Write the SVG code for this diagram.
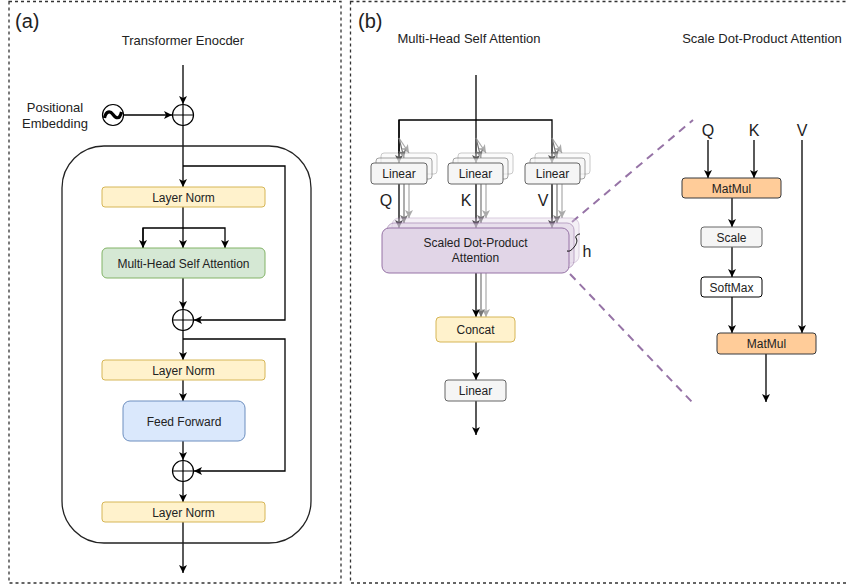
<svg xmlns="http://www.w3.org/2000/svg" width="846" height="588" viewBox="0 0 846 588">
<style>
text{font-family:"Liberation Sans",Arial,sans-serif;fill:#222;text-anchor:middle}
.t{font-size:13px}
.b{font-size:12px}
.big{font-size:20px;text-anchor:start}
.qkv{font-size:16px}
.ln{stroke:#000;stroke-width:1.3;fill:none}
.g1{stroke:#777;stroke-width:1.2;fill:none}
.g2{stroke:#aaa;stroke-width:1.2;fill:none}
.panel{fill:none;stroke:#333;stroke-width:1.3;stroke-dasharray:3,3}
.yel{fill:#fff2cc;stroke:#d6b656}
.grn{fill:#d5e8d4;stroke:#82b366}
.blu{fill:#dae8fc;stroke:#6c8ebf}
.gry{fill:#f5f5f5;stroke:#666}
.pur{fill:#e1d5e7;stroke:#9673a6}
.org{fill:#ffcc99;stroke:#36393d}
.wht{fill:#fff;stroke:#000}
.sum{fill:#fff;stroke:#000;stroke-width:1.2}
.pdash{stroke:#9673a6;stroke-width:2;stroke-dasharray:8,6;fill:none}
</style>
<defs>
<marker id="a" viewBox="0 0 8 8" refX="8" refY="4" markerWidth="8" markerHeight="8" markerUnits="userSpaceOnUse" orient="auto"><path d="M0,0 L8,4 L0,8 L2,4 z" fill="#000"/></marker>
<marker id="ag" viewBox="0 0 8 8" refX="8" refY="4" markerWidth="8" markerHeight="8" markerUnits="userSpaceOnUse" orient="auto"><path d="M0,0 L8,4 L0,8 L2,4 z" fill="#777"/></marker>
<marker id="ag2" viewBox="0 0 8 8" refX="8" refY="4" markerWidth="8" markerHeight="8" markerUnits="userSpaceOnUse" orient="auto"><path d="M0,0 L8,4 L0,8 L2,4 z" fill="#aaa"/></marker>
</defs>
<rect width="846" height="588" fill="#fff"/>
<!-- panels -->
<g id="panel-a">
<rect class="panel" x="9" y="1.5" width="332" height="581.5"/>
<text class="big" x="15" y="28">(a)</text>
<text class="t" x="183" y="45">Transformer Enocder</text>
</g>
<g id="panel-b">
<rect class="panel" x="350.5" y="1.5" width="500" height="581.5"/>
<text class="big" x="358" y="28">(b)</text>
<text class="t" x="469" y="43">Multi-Head Self Attention</text>
<text class="t" x="762" y="43">Scale Dot-Product Attention</text>
</g>
<!-- connectors -->
<g id="connectors">
<!-- panel a -->
<line class="ln" x1="183" y1="65" x2="183" y2="104" marker-end="url(#a)"/>
<line class="ln" x1="123.5" y1="115" x2="172" y2="115" marker-end="url(#a)"/>
<line class="ln" x1="183" y1="125.5" x2="183" y2="187" marker-end="url(#a)"/>
<polyline class="ln" points="183,166 285,166 285,320 194,320" marker-end="url(#a)"/>
<line class="ln" x1="183" y1="207" x2="183" y2="248" marker-end="url(#a)"/>
<polyline class="ln" points="143,248 143,228 225,228 225,248" marker-end="url(#a)"/>
<line class="ln" x1="143" y1="228" x2="143" y2="248" marker-end="url(#a)"/>
<line class="ln" x1="183" y1="278" x2="183" y2="309" marker-end="url(#a)"/>
<line class="ln" x1="183" y1="330.5" x2="183" y2="360" marker-end="url(#a)"/>
<polyline class="ln" points="183,339 285,339 285,471 194,471" marker-end="url(#a)"/>
<line class="ln" x1="183" y1="380" x2="183" y2="401" marker-end="url(#a)"/>
<line class="ln" x1="183" y1="441" x2="183" y2="460" marker-end="url(#a)"/>
<line class="ln" x1="183" y1="481.5" x2="183" y2="502" marker-end="url(#a)"/>
<line class="ln" x1="183" y1="522" x2="183" y2="573" marker-end="url(#a)"/>
<!-- panel b: MHSA -->
<line class="ln" x1="476" y1="75" x2="476" y2="163" marker-end="url(#a)"/>
<polyline class="ln" points="399,163 399,120 552,120 552,163" marker-end="url(#a)"/>
<line class="ln" x1="399" y1="120" x2="399" y2="163" marker-end="url(#a)"/>
<g id="gray-in">
<line class="g2" x1="399" y1="138" x2="409" y2="153" marker-end="url(#ag2)"/>
<line class="g1" x1="399" y1="138" x2="404" y2="158" marker-end="url(#ag)"/>
<line class="g2" x1="476" y1="138" x2="486" y2="153" marker-end="url(#ag2)"/>
<line class="g1" x1="476" y1="138" x2="481" y2="158" marker-end="url(#ag)"/>
<line class="g2" x1="552" y1="138" x2="562" y2="153" marker-end="url(#ag2)"/>
<line class="g1" x1="552" y1="138" x2="557" y2="158" marker-end="url(#ag)"/>
</g>
<line class="g2" x1="409" y1="174" x2="409" y2="218" marker-end="url(#ag2)"/>
<line class="g1" x1="404" y1="179" x2="404" y2="223" marker-end="url(#ag)"/>
<line class="ln" x1="399" y1="184" x2="399" y2="228" marker-end="url(#a)"/>
<line class="g2" x1="486" y1="174" x2="486" y2="218" marker-end="url(#ag2)"/>
<line class="g1" x1="481" y1="179" x2="481" y2="223" marker-end="url(#ag)"/>
<line class="ln" x1="476" y1="184" x2="476" y2="228" marker-end="url(#a)"/>
<line class="g2" x1="562" y1="174" x2="562" y2="218" marker-end="url(#ag2)"/>
<line class="g1" x1="557" y1="179" x2="557" y2="223" marker-end="url(#ag)"/>
<line class="ln" x1="552" y1="184" x2="552" y2="228" marker-end="url(#a)"/>
<line class="g2" x1="486" y1="273" x2="486" y2="317" marker-end="url(#ag2)"/>
<line class="g1" x1="481" y1="273" x2="481" y2="317" marker-end="url(#ag)"/>
<line class="ln" x1="476" y1="273" x2="476" y2="317" marker-end="url(#a)"/>
<line class="ln" x1="476" y1="342" x2="476" y2="380" marker-end="url(#a)"/>
<line class="ln" x1="476" y1="401" x2="476" y2="435" marker-end="url(#a)"/>
<!-- zoom dashes -->
<line class="pdash" x1="572" y1="222" x2="693" y2="120"/>
<line class="pdash" x1="570" y1="274" x2="692" y2="402"/>
<!-- scaled dot product -->
<line class="ln" x1="708" y1="140" x2="708" y2="178" marker-end="url(#a)"/>
<line class="ln" x1="754" y1="140" x2="754" y2="178" marker-end="url(#a)"/>
<line class="ln" x1="802" y1="140" x2="802" y2="333" marker-end="url(#a)"/>
<line class="ln" x1="732" y1="198" x2="732" y2="227" marker-end="url(#a)"/>
<line class="ln" x1="732" y1="247" x2="732" y2="277" marker-end="url(#a)"/>
<line class="ln" x1="732" y1="297" x2="732" y2="333" marker-end="url(#a)"/>
<line class="ln" x1="766" y1="354" x2="766" y2="402" marker-end="url(#a)"/>
</g>
<!-- nodes panel a -->
<g id="encoder-frame"><rect x="62" y="146" width="249" height="397" rx="42" fill="none" stroke="#222" stroke-width="1.3"/></g>
<g id="sum-in"><circle class="sum" cx="183" cy="115" r="10.5"/><path d="M172.5,115 H193.5 M183,104.5 V125.5" stroke="#000" stroke-width="1.2"/></g>
<g id="pos-emb"><circle class="sum" cx="113" cy="115" r="10.5"/><path d="M104.5,118 C106,111 110,110.5 113,114.5 S119.5,120 121.5,112" fill="none" stroke="#000" stroke-width="3.2"/>
<text class="t" x="55" y="112">Positional</text><text class="t" x="55" y="128">Embedding</text></g>
<g id="ln1"><rect class="yel" x="102" y="187" width="163" height="20" rx="3"/><text class="b" x="183.5" y="201.5">Layer Norm</text></g>
<g id="mhsa"><rect class="grn" x="102" y="248" width="163" height="30" rx="5"/><text class="b" x="183.5" y="267.5">Multi-Head Self Attention</text></g>
<g id="sum1"><circle class="sum" cx="183" cy="320" r="10.5"/><path d="M172.5,320 H193.5 M183,309.5 V330.5" stroke="#000" stroke-width="1.2"/></g>
<g id="ln2"><rect class="yel" x="102" y="360" width="163" height="20" rx="3"/><text class="b" x="183.5" y="374.5">Layer Norm</text></g>
<g id="ff"><rect class="blu" x="123" y="401" width="122" height="40" rx="7"/><text class="b" x="184" y="425.5">Feed Forward</text></g>
<g id="sum2"><circle class="sum" cx="183" cy="471" r="10.5"/><path d="M172.5,471 H193.5 M183,460.5 V481.5" stroke="#000" stroke-width="1.2"/></g>
<g id="ln3"><rect class="yel" x="102" y="502" width="163" height="20" rx="3"/><text class="b" x="183.5" y="516.5">Layer Norm</text></g>
<!-- nodes panel b -->
<g id="linear-q"><rect class="gry" x="381" y="153" width="56" height="21" rx="3" opacity="0.35"/><rect class="gry" x="376" y="158" width="56" height="21" rx="3" opacity="0.6"/><rect class="gry" x="371" y="163" width="56" height="21" rx="3"/><text class="b" x="399" y="178">Linear</text></g>
<g id="linear-k"><rect class="gry" x="458" y="153" width="55" height="21" rx="3" opacity="0.35"/><rect class="gry" x="453" y="158" width="55" height="21" rx="3" opacity="0.6"/><rect class="gry" x="448" y="163" width="55" height="21" rx="3"/><text class="b" x="475.5" y="178">Linear</text></g>
<g id="linear-v"><rect class="gry" x="535" y="153" width="55" height="21" rx="3" opacity="0.35"/><rect class="gry" x="530" y="158" width="55" height="21" rx="3" opacity="0.6"/><rect class="gry" x="525" y="163" width="55" height="21" rx="3"/><text class="b" x="552.5" y="178">Linear</text></g>
<g id="qkv-labels"><text class="qkv" x="386" y="206">Q</text><text class="qkv" x="466" y="206">K</text><text class="qkv" x="543" y="206">V</text></g>
<g id="sdpa"><rect class="pur" x="392" y="218" width="187" height="45" rx="7" opacity="0.35"/><rect class="pur" x="387" y="223" width="187" height="45" rx="7" opacity="0.6"/><rect class="pur" x="382" y="228" width="187" height="45" rx="7"/>
<text class="b" x="475.5" y="247">Scaled Dot-Product</text><text class="b" x="475.5" y="262">Attention</text>
<path d="M567,251 C571,252 573,248 575,246 C576,244 578,241 576,238 C575,236 578,234 580,234" fill="none" stroke="#000" stroke-width="1"/>
<text class="qkv" x="587" y="257">h</text></g>
<g id="concat"><rect class="yel" x="436" y="317" width="79" height="25" rx="4"/><text class="b" x="475.5" y="334">Concat</text></g>
<g id="linear-out"><rect class="gry" x="445" y="380" width="61" height="21" rx="3"/><text class="b" x="475.5" y="395">Linear</text></g>
<g id="sd-labels"><text class="qkv" x="708" y="136">Q</text><text class="qkv" x="754" y="136">K</text><text class="qkv" x="802" y="136">V</text></g>
<g id="matmul1"><rect class="org" x="682" y="178" width="99" height="20" rx="3"/><text class="b" x="731.5" y="192.5">MatMul</text></g>
<g id="scale"><rect class="gry" x="701" y="227" width="61" height="20" rx="3" stroke="#999"/><text class="b" x="731.5" y="241.5">Scale</text></g>
<g id="softmax"><rect class="wht" x="701" y="277" width="61" height="20" rx="3"/><text class="b" x="731.5" y="291.5">SoftMax</text></g>
<g id="matmul2"><rect class="org" x="717" y="333" width="99" height="21" rx="3"/><text class="b" x="766.5" y="348">MatMul</text></g>
</svg>
